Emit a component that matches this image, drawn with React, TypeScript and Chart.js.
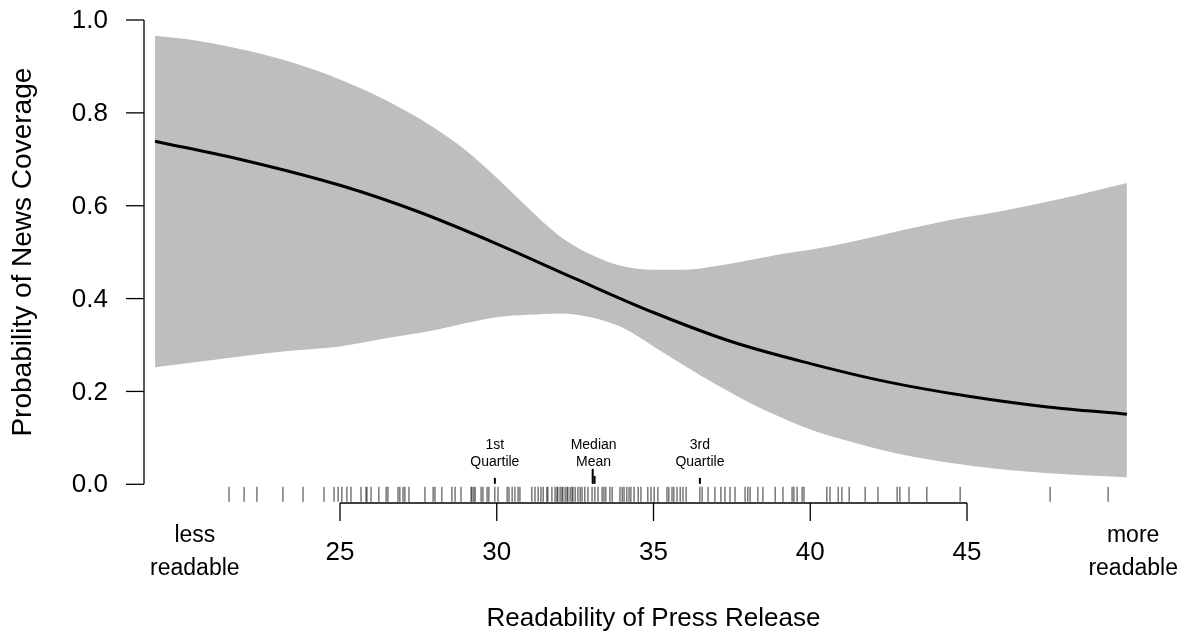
import React, { useEffect, useRef } from 'react';
import { Chart, registerables } from 'chart.js';

Chart.register(...registerables);

// Fitted probability curve
const curveX = [19.1, 22, 25, 27.5, 30, 32.5, 35, 37.5, 40, 42.5, 45, 47.5, 50.1];
const fitted = [0.739, 0.697, 0.644, 0.587, 0.518, 0.443, 0.37, 0.307, 0.26, 0.22, 0.19, 0.167, 0.151];

// Confidence band
const bandX = [19.1, 20.5, 22, 23.5, 25, 26.5, 28, 29, 30, 31, 32, 33, 34, 35, 36, 37, 38, 39, 40, 41.5, 43, 44.5, 46, 48, 50.1];
const upperCI = [0.966, 0.955, 0.935, 0.908, 0.872, 0.826, 0.768, 0.72, 0.66, 0.595, 0.535, 0.495, 0.47, 0.462, 0.462, 0.47, 0.482, 0.495, 0.505, 0.525, 0.548, 0.57, 0.587, 0.615, 0.649];
const lowerCI = [0.252, 0.264, 0.277, 0.288, 0.297, 0.315, 0.332, 0.347, 0.36, 0.365, 0.368, 0.36, 0.338, 0.297, 0.255, 0.215, 0.178, 0.146, 0.118, 0.088, 0.063, 0.046, 0.033, 0.022, 0.015];

// Observed readability scores (rug)
const rugValues = [
  21.46, 21.94, 22.35, 23.18, 23.82, 24.49, 24.81, 24.94, 25.06, 25.22, 25.35, 25.67, 25.83, 25.86, 25.99,
  26.24, 26.47, 26.53, 26.85, 26.91, 27.01, 27.07, 27.2, 27.71, 27.97, 28.03, 28.25, 28.57, 28.67, 28.86,
  29.18, 29.21, 29.27, 29.31, 29.5, 29.56, 29.69, 29.75, 29.94, 30.04, 30.33, 30.39, 30.49, 30.58, 30.68,
  30.74, 31.12, 31.22, 31.32, 31.41, 31.48, 31.6, 31.63, 31.76, 31.86, 31.92, 31.95, 32.02, 32.08, 32.11,
  32.18, 32.24, 32.27, 32.34, 32.4, 32.43, 32.5, 32.59, 32.66, 32.72, 32.81, 32.91, 33.04, 33.13, 33.23,
  33.36, 33.42, 33.48, 33.61, 33.68, 33.93, 34.0, 34.06, 34.15, 34.22, 34.28, 34.38, 34.51, 34.6, 34.82,
  34.92, 35.02, 35.14, 35.43, 35.49, 35.59, 35.65, 35.75, 35.85, 35.94, 36.04, 36.48, 36.55, 36.74, 36.96,
  37.15, 37.28, 37.44, 37.6, 37.92, 38.01, 38.08, 38.33, 38.49, 38.88, 39.13, 39.42, 39.48, 39.58, 39.74,
  39.8, 40.53, 40.63, 40.89, 41.01, 41.24, 41.75, 42.16, 42.77, 42.86, 43.15, 43.72, 44.78, 47.65, 49.5,
];

// Summary statistics of readability
const statNames = ['1st Quartile', 'Median', 'Mean', '3rd Quartile'];
const statValues = [29.94, 33.06, 33.12, 36.48];

// Axis ticks and labels
const yTicks = [0, 0.2, 0.4, 0.6, 0.8, 1.0];
const xTicks = [25, 30, 35, 40, 45];
const xEndLabels = ['less\nreadable', 'more\nreadable'];
const xEndPositions = [20.37, 50.3];
const xTitle = 'Readability of Press Release';
const yTitle = 'Probability of News Coverage';

const FONT = '"Liberation Sans", Arial, Helvetica, sans-serif';
const PX_PER_UNIT_Y = 464.3;
const Y_MIN = -0.08;

const axesPlugin = {
  id: 'rAxes',
  afterDraw(chart: any) {
    const { ctx, scales } = chart;
    const xs = scales.x;
    const ys = scales.y;
    ctx.save();
    ctx.strokeStyle = '#000';
    ctx.fillStyle = '#000';
    ctx.lineWidth = 1.3;

    // Y axis
    const axX = chart.chartArea.left;
    ctx.beginPath();
    ctx.moveTo(axX, ys.getPixelForValue(yTicks[0]));
    ctx.lineTo(axX, ys.getPixelForValue(yTicks[yTicks.length - 1]));
    ctx.stroke();
    ctx.font = `26px ${FONT}`;
    ctx.textAlign = 'right';
    ctx.textBaseline = 'middle';
    yTicks.forEach((t) => {
      const py = ys.getPixelForValue(t);
      ctx.beginPath();
      ctx.moveTo(axX, py);
      ctx.lineTo(axX - 18, py);
      ctx.stroke();
      ctx.fillText(t.toFixed(1), axX - 36, py + 1);
    });

    // Y title
    ctx.save();
    const midY = (ys.getPixelForValue(0) + ys.getPixelForValue(1)) / 2;
    ctx.translate(23, midY);
    ctx.rotate(-Math.PI / 2);
    ctx.textAlign = 'center';
    ctx.textBaseline = 'middle';
    ctx.font = `28px ${FONT}`;
    ctx.fillText(yTitle, 0, 0);
    ctx.restore();

    // X axis (segment between first and last tick)
    const axY = 503;
    ctx.beginPath();
    ctx.moveTo(xs.getPixelForValue(xTicks[0]), axY);
    ctx.lineTo(xs.getPixelForValue(xTicks[xTicks.length - 1]), axY);
    ctx.stroke();
    ctx.font = `26px ${FONT}`;
    ctx.textAlign = 'center';
    ctx.textBaseline = 'middle';
    xTicks.forEach((t) => {
      const px = xs.getPixelForValue(t);
      ctx.beginPath();
      ctx.moveTo(px, axY);
      ctx.lineTo(px, axY + 18);
      ctx.stroke();
      ctx.fillText(String(t), px, 553);
    });
    ctx.font = `23px ${FONT}`;
    xEndLabels.forEach((lab, i) => {
      const px = xs.getPixelForValue(xEndPositions[i]);
      const lines = lab.split('\n');
      ctx.fillText(lines[0], px, 536);
      ctx.fillText(lines[1], px, 569);
    });
    ctx.font = `26px ${FONT}`;
    ctx.fillText(xTitle, (xs.getPixelForValue(25) + xs.getPixelForValue(45)) / 2, 619);

    // Summary stat labels
    ctx.font = `14px ${FONT}`;
    const groups = [
      { x: statValues[0], lines: ['1st', 'Quartile'] },
      { x: (statValues[1] + statValues[2]) / 2, lines: [statNames[1], statNames[2]] },
      { x: statValues[3], lines: ['3rd', 'Quartile'] },
    ];
    groups.forEach((g) => {
      const px = xs.getPixelForValue(g.x);
      ctx.fillText(g.lines[0], px, 445);
      ctx.fillText(g.lines[1], px, 462);
    });
    ctx.restore();
  },
};

export default function App() {
  const ref = useRef<HTMLCanvasElement>(null);
  useEffect(() => {
    if (!ref.current) return;
    const yPerPx = 1 / PX_PER_UNIT_Y;
    const rugCenter = -10 * yPerPx;
    const band = bandX.map((x, i) => ({ x, y: upperCI[i] }));
    const bandLow = bandX.map((x, i) => ({ x, y: lowerCI[i] }));
    const line = curveX.map((x, i) => ({ x, y: fitted[i] }));
    const rug = rugValues.map((x) => ({ x, y: rugCenter }));
    const statLens = [6, 15, 8, 6];
    const statData = statValues.map((x, i) => ({ x, y: (statLens[i] / 2) * yPerPx + 0.001 }));
    const bottomPx = 20 + (1 - Y_MIN) * PX_PER_UNIT_Y;

    const chart = new Chart(ref.current, {
      type: 'line',
      data: {
        datasets: [
          {
            label: 'upper',
            data: band,
            borderWidth: 0,
            pointRadius: 0,
            backgroundColor: '#BEBEBE',
            fill: '+1',
            cubicInterpolationMode: 'monotone',
            order: 5,
          },
          {
            label: 'lower',
            data: bandLow,
            borderWidth: 0,
            pointRadius: 0,
            backgroundColor: '#BEBEBE',
            fill: false,
            cubicInterpolationMode: 'monotone',
            order: 4,
          },
          {
            label: 'fitted',
            data: line,
            borderColor: '#000',
            borderWidth: 3,
            pointRadius: 0,
            fill: false,
            cubicInterpolationMode: 'monotone',
            order: 1,
          },
          {
            label: 'rug',
            data: rug,
            showLine: false,
            pointStyle: 'line',
            pointRotation: 90,
            pointRadius: 7.5,
            pointBorderWidth: 1,
            pointBorderColor: 'rgba(0,0,0,0.8)',
            borderColor: 'rgba(0,0,0,0.8)',
            order: 0,
          } as any,
          {
            label: 'stats',
            data: statData,
            showLine: false,
            pointStyle: 'line',
            pointRotation: 90,
            pointRadius: statLens.map((l) => l / 2),
            pointBorderWidth: 2,
            pointBorderColor: '#000',
            borderColor: '#000',
            clip: false,
            order: 0,
          } as any,
        ],
      },
      options: {
        responsive: false,
        animation: false,
        layout: { padding: { left: 144, top: 20, right: 25, bottom: 639 - bottomPx } },
        plugins: { legend: { display: false }, tooltip: { enabled: false } },
        scales: {
          x: { type: 'linear', display: false, min: 18.748, max: 51.156 },
          y: { type: 'linear', display: false, min: Y_MIN, max: 1 },
        },
      },
      plugins: [axesPlugin],
    });
    return () => chart.destroy();
  }, []);
  return (
    <div style={{ position: 'fixed', left: 0, top: 0, width: 1185, height: 639, background: '#fff' }}>
      <canvas ref={ref} width={1185} height={639} />
    </div>
  );
}
